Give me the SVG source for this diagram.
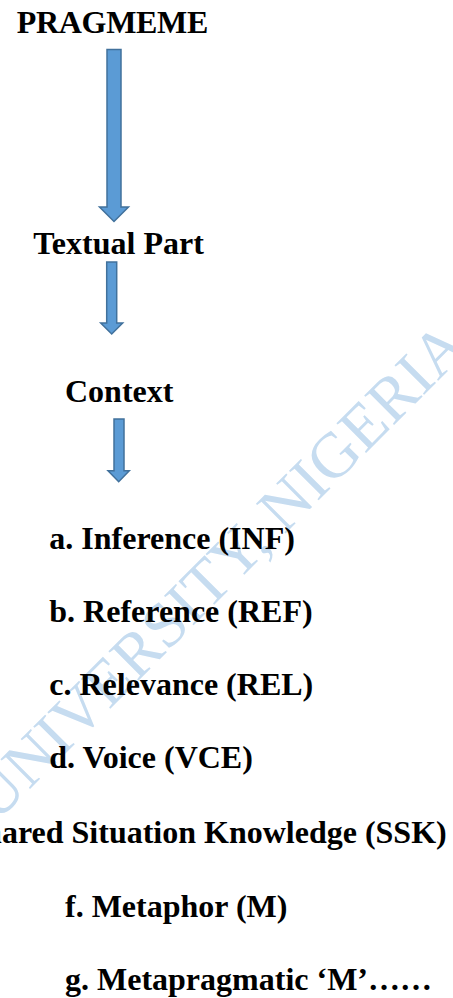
<svg xmlns="http://www.w3.org/2000/svg" width="453" height="998" viewBox="0 0 453 998">
<style>
.t{font-family:"Liberation Serif","Times New Roman",serif;font-weight:bold;font-size:32px;fill:#000}
.arr{fill:#5b9bd5;stroke:#41719c;stroke-width:1.5;stroke-linejoin:miter}
.wm{font-family:"Liberation Serif","Times New Roman",serif;font-size:64px;fill:#c6dcf0}
</style>
<rect width="453" height="998" fill="#fff"/>
<g id="watermark" transform="translate(-4,823) rotate(-45)">
<text class="wm" x="0" y="0">UNIVERSITY, NIGERIA</text>
</g>
<g id="connectors">
<path class="arr" d="M107,49.5 H121 V207 H128.5 L114,221.5 L99.5,207 H107 Z"/>
<path class="arr" d="M106.7,262 H116.7 V323 H122.7 L111.7,334 L100.7,323 H106.7 Z"/>
<path class="arr" d="M114,419 H124 V470.7 H129.3 L118.7,481.7 L108,470.7 H114 Z"/>
</g>
<g id="pragmeme"><text class="t" x="16.7" y="33.3" textLength="191.6" lengthAdjust="spacing">PRAGMEME</text></g>
<g id="textual-part"><text class="t" x="33.3" y="254" textLength="170.7" lengthAdjust="spacing">Textual Part</text></g>
<g id="context"><text class="t" x="65" y="401.5">Context</text></g>
<g id="item-a"><text class="t" x="49.3" y="549.3">a. Inference (INF)</text></g>
<g id="item-b"><text class="t" x="49.3" y="621.7">b. Reference (REF)</text></g>
<g id="item-c"><text class="t" x="49.3" y="695">c. Relevance (REL)</text></g>
<g id="item-d"><text class="t" x="49.3" y="768.3">d. Voice (VCE)</text></g>
<g id="item-e"><text class="t" x="446.7" y="843.3" text-anchor="end">e. Shared Situation Knowledge (SSK)</text></g>
<g id="item-f"><text class="t" x="65" y="916.7">f. Metaphor (M)</text></g>
<g id="item-g"><text class="t" x="65" y="990">g. Metapragmatic ‘M’……</text></g>
</svg>
